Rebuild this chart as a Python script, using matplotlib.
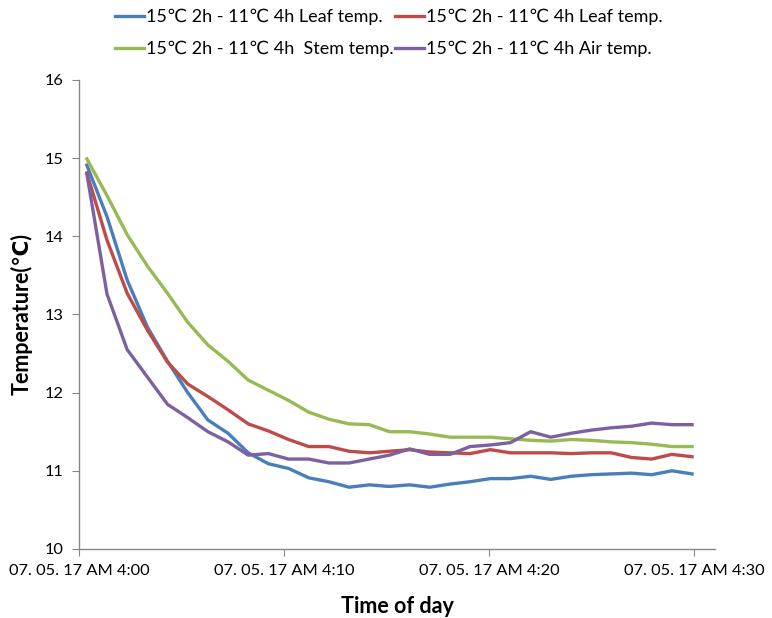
import numpy as np
import matplotlib
matplotlib.use("Agg")
import matplotlib.pyplot as plt

plt.rcParams['font.family'] = ['Lato', 'DejaVu Sans']

# sample times: seconds after 4:00:00
sec = np.arange(31) * 59 + 23
minutes = sec / 60.0

leaf_a = [14.91, 14.25, 13.44, 12.84, 12.40, 12.00, 11.65, 11.48, 11.23, 11.09,
          11.03, 10.91, 10.86, 10.79, 10.82, 10.80, 10.82, 10.79, 10.83, 10.86,
          10.90, 10.90, 10.93, 10.89, 10.93, 10.95, 10.96, 10.97, 10.95, 11.00, 10.96]
leaf_b = [14.81, 13.95, 13.27, 12.80, 12.39, 12.11, 11.95, 11.78, 11.60, 11.51,
          11.40, 11.31, 11.31, 11.25, 11.23, 11.25, 11.27, 11.24, 11.23, 11.22,
          11.27, 11.23, 11.23, 11.23, 11.22, 11.23, 11.23, 11.17, 11.15, 11.21, 11.18]
stem = [14.99, 14.52, 14.02, 13.62, 13.27, 12.90, 12.61, 12.40, 12.16, 12.03,
        11.90, 11.75, 11.66, 11.60, 11.59, 11.50, 11.50, 11.47, 11.43, 11.43,
        11.43, 11.41, 11.39, 11.38, 11.40, 11.39, 11.37, 11.36, 11.34, 11.31, 11.31]
air = [14.80, 13.26, 12.55, 12.20, 11.85, 11.68, 11.50, 11.37, 11.20, 11.22,
       11.15, 11.15, 11.10, 11.10, 11.15, 11.20, 11.28, 11.21, 11.21, 11.31,
       11.33, 11.36, 11.50, 11.43, 11.48, 11.52, 11.55, 11.57, 11.61, 11.59, 11.59]

tick_pos = [0, 10, 20, 30]
tick_labels = ['07. 05. 17 AM 4:00', '07. 05. 17 AM 4:10',
               '07. 05. 17 AM 4:20', '07. 05. 17 AM 4:30']

fig = plt.figure(figsize=(7.72, 6.18), dpi=100)
ax = fig.add_axes([0.1023, 0.1117, 0.8238, 0.759])

lw = 2.4
l1, = ax.plot(minutes, leaf_a, color='#4A7EBB', lw=lw, label='15℃ 2h - 11℃ 4h Leaf temp.')
l2, = ax.plot(minutes, leaf_b, color='#BE4B48', lw=lw, label='15℃ 2h - 11℃ 4h Leaf temp.')
l3, = ax.plot(minutes, stem, color='#98B954', lw=lw, label='15℃ 2h - 11℃ 4h  Stem temp.')
l4, = ax.plot(minutes, air, color='#7D60A0', lw=lw, label='15℃ 2h - 11℃ 4h Air temp.')

ax.set_xlim(0, 31)
ax.set_ylim(10, 16)
ax.set_xticks(tick_pos)
ax.set_xticklabels(tick_labels)
ax.set_yticks(range(10, 17))

for s in ['top', 'right']:
    ax.spines[s].set_visible(False)
for s in ['left', 'bottom']:
    ax.spines[s].set_color('#868686')
    ax.spines[s].set_linewidth(1.0)
ax.tick_params(axis='both', direction='out', length=5, color='#868686',
               labelsize=11.8, labelcolor='#000000', pad=6)

ax.set_ylabel('Temperature(℃)', fontsize=15.5, fontweight='bold', labelpad=9)
ax.set_xlabel('Time of day', fontsize=15.5, fontweight='bold', labelpad=13)

fig.legend([l1, l3, l2, l4], [l1.get_label(), l3.get_label(), l2.get_label(), l4.get_label()],
           ncol=2, loc='upper left', bbox_to_anchor=(0.128, 1.012), frameon=False,
           fontsize=13, handlelength=1.6, handletextpad=0.1, columnspacing=0.1,
           labelspacing=0.85)

fig.savefig('out.png', dpi=100)
